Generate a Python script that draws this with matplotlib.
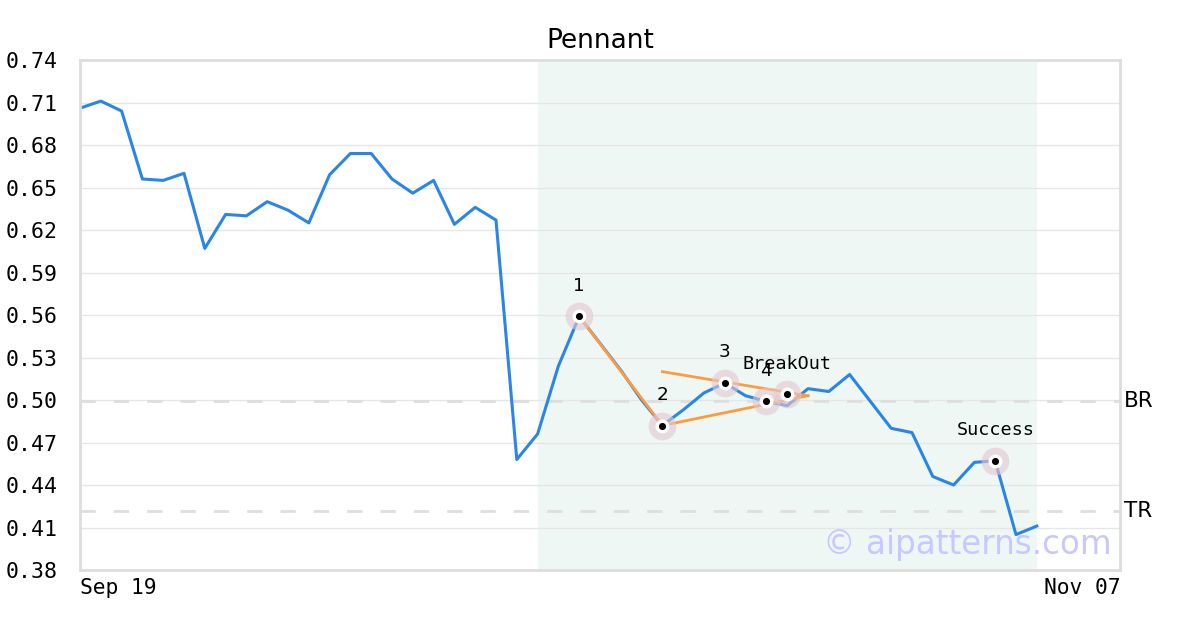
import matplotlib
matplotlib.use('Agg')
import matplotlib.pyplot as plt
import matplotlib.transforms as mtransforms
import numpy as np

# closing prices, one per trading day (index 0 = Sep 19)
prices = [0.706, 0.711, 0.704, 0.656, 0.655, 0.660, 0.607, 0.631, 0.630, 0.640,
          0.634, 0.625, 0.659, 0.674, 0.674, 0.656, 0.646, 0.655, 0.624, 0.636,
          0.627, 0.458, 0.476, 0.524, 0.559, 0.540, 0.521, 0.500, 0.482, 0.493,
          0.505, 0.512, 0.503, 0.499, 0.496, 0.508, 0.506, 0.518, 0.499, 0.480,
          0.477, 0.446, 0.440, 0.456, 0.457, 0.405, 0.411]
days = np.arange(len(prices))

# pattern points
point_labels = ['1', '2', '3', '4', 'BreakOut', 'Success']
point_x = [24, 28, 31, 33, 34, 44]
point_y = [0.559, 0.482, 0.512, 0.499, 0.504, 0.457]

# pole + flag trendlines (x0, y0, x1, y1)
pole = [(24, 0.559), (28, 0.482)]
lower_trend = [(28, 0.482), (35, 0.503)]
upper_trend = [(28, 0.520), (35, 0.503)]

# levels
br_level = 0.4995
tr_level = 0.4217
pattern_start, pattern_end = 22, 46

x_ticks = [0, 50]
x_tick_labels = ['Sep 19', 'Nov 07']
y_ticks = np.round(np.arange(0.38, 0.7401, 0.03), 2)

fig = plt.figure(figsize=(12, 6.3), dpi=100)
ax = fig.add_axes([80/1200, 60/630, 1040/1200, 510/630])

ax.axvspan(pattern_start, pattern_end, color='#eef7f3', zorder=0, lw=0)
ax.set_axisbelow(True)
ax.grid(True, axis='y', color='#e6e6e6', lw=1)

ax.axhline(br_level, color='#dedede', lw=2, ls=(0, (5.5, 6.5)), zorder=1)
ax.axhline(tr_level, color='#dedede', lw=2, ls=(0, (5.5, 6.5)), zorder=1)

ax.plot(days, prices, color='#2a85e8', lw=2.2, zorder=2)

for seg in [pole, lower_trend, upper_trend]:
    ax.plot([seg[0][0], seg[1][0]], [seg[0][1], seg[1][1]], color='#ff9a40', lw=2, zorder=3)

# markers: halo, white ring, black dot
ax.scatter(point_x, point_y, s=400, color='#e3c8d0', alpha=0.6, lw=0, zorder=4)
ax.scatter(point_x, point_y, s=100, color='white', lw=0, zorder=5)
ax.scatter(point_x, point_y, s=26, color='black', lw=0, zorder=6)

for lbl, px, py in zip(point_labels, point_x, point_y):
    fam = 'DejaVu Sans Mono' if len(lbl) > 1 else 'DejaVu Sans'
    ax.annotate(lbl, (px, py), xytext=(0, 22), textcoords='offset points',
                ha='center', va='center', fontsize=13.3, family=fam, zorder=7)

trans = mtransforms.blended_transform_factory(ax.transAxes, ax.transData)
ax.text(1.004, br_level, 'BR', transform=trans, va='center', ha='left',
        fontsize=15.5, family='DejaVu Sans')
ax.text(1.004, tr_level, 'TR', transform=trans, va='center', ha='left',
        fontsize=15.5, family='DejaVu Sans')

ax.text(0.992, 0.05, '\u00a9 aipatterns.com', transform=ax.transAxes, ha='right',
        va='center', fontsize=23.5, color='#c8c8ff', zorder=8)

ax.set_xlim(0, 50)
ax.set_ylim(0.38, 0.74)
ax.set_yticks(y_ticks)
ax.set_yticklabels(['%.2f' % v for v in y_ticks], family='DejaVu Sans Mono', fontsize=15.5)
ax.set_xticks(x_ticks)
xl = ax.set_xticklabels(x_tick_labels, family='DejaVu Sans Mono', fontsize=15.3)
xl[0].set_ha('left')
xl[1].set_ha('right')
ax.tick_params(axis='y', length=0, pad=16)
ax.tick_params(axis='x', length=0, pad=6)

for s in ax.spines.values():
    s.set_color('#dddddd')
    s.set_linewidth(2)

ax.set_title('Pennant', fontsize=19, family='DejaVu Sans', pad=9)

plt.savefig('out.png', dpi=100)
